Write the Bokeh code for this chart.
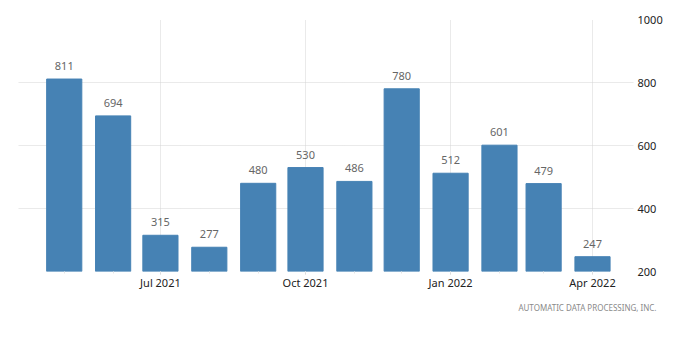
import pandas as pd
from bokeh.plotting import figure
from bokeh.models import Range1d, FixedTicker, DatetimeTickFormatter, Title, ColumnDataSource
from bokeh.embed import file_html
from bokeh.resources import INLINE
from bokeh.core.properties import value

# ---- data ----
months = ["2021-05", "2021-06", "2021-07", "2021-08", "2021-09", "2021-10",
          "2021-11", "2021-12", "2022-01", "2022-02", "2022-03", "2022-04"]
values = [811, 694, 315, 277, 480, 530, 486, 780, 512, 601, 479, 247]
x_tick_dates = ["2021-07-01", "2021-10-01", "2022-01-01", "2022-04-01"]
y_ticks = [200, 400, 600, 800, 1000]
source_note = "AUTOMATIC DATA PROCESSING, INC."

FONT = "Noto Sans"
DAY = 86400000

dates = pd.to_datetime([m + "-01" for m in months])
src = ColumnDataSource(dict(
    x=dates, top=values, bottom=[y_ticks[0]] * len(values),
    label=[str(v) for v in values]))

p = figure(width=700, height=345, x_axis_type="datetime", y_axis_location="right",
           output_backend="svg", toolbar_location=None,
           x_range=Range1d(pd.Timestamp("2021-04-02"), pd.Timestamp("2022-04-27")),
           y_range=Range1d(200, 1000),
           min_border_left=18, min_border_right=67, min_border_top=19, min_border_bottom=74)
p.outline_line_color = None
p.background_fill_color = "white"
p.border_fill_color = "white"

p.vbar(x="x", top="top", bottom="bottom", width=22.3 * DAY, source=src,
       fill_color="#4682b4", line_color="#4682b4")
p.text(x="x", y="top", text="label", source=src, text_align="center",
       text_baseline="bottom", y_offset=-9, text_font=value(FONT),
       text_font_size="11px", text_color="#666666")

# x axis
tick_ms = [pd.Timestamp(d).value // 10**6 for d in x_tick_dates]
minor_ms = [pd.Timestamp(m + "-01").value // 10**6 for m in months]
xt = FixedTicker(ticks=tick_ms, minor_ticks=minor_ms)
p.xaxis.ticker = xt
p.xaxis.formatter = DatetimeTickFormatter(months="%b %Y", days="%b %Y", years="%b %Y")
p.xaxis.axis_line_color = None
p.xaxis.major_tick_line_color = "#d0d0d0"
p.xaxis.major_tick_out = 3
p.xaxis.major_tick_in = 0
p.xaxis.minor_tick_line_color = "#e6e6e6"
p.xaxis.minor_tick_out = 2
p.xaxis.minor_tick_in = 0
p.xaxis.major_label_standoff = 0
p.xaxis.major_label_text_font = FONT
p.xaxis.major_label_text_font_size = "11px"
p.xaxis.major_label_text_color = "#222222"

# y axis
p.yaxis.ticker = FixedTicker(ticks=y_ticks)
p.yaxis.axis_line_color = None
p.yaxis.major_tick_line_color = None
p.yaxis.minor_tick_line_color = None
p.yaxis.major_tick_out = 0
p.yaxis.major_label_standoff = 4
p.yaxis.major_label_text_font = FONT
p.yaxis.major_label_text_font_size = "11px"
p.yaxis.major_label_text_color = "#222222"

# grids
p.xgrid.grid_line_color = "#d4d4d4"
p.xgrid.grid_line_dash = "1 1"
p.ygrid.grid_line_color = "#d4d4d4"
p.ygrid.grid_line_dash = "1 1"

p.add_layout(Title(text=source_note, align="right", offset=-23, standoff=14,
                   text_font=FONT, text_font_size="8px", text_font_style="normal",
                   text_color="#8a8a8a"), "below")

open("out.html", "w").write(file_html(p, INLINE))
